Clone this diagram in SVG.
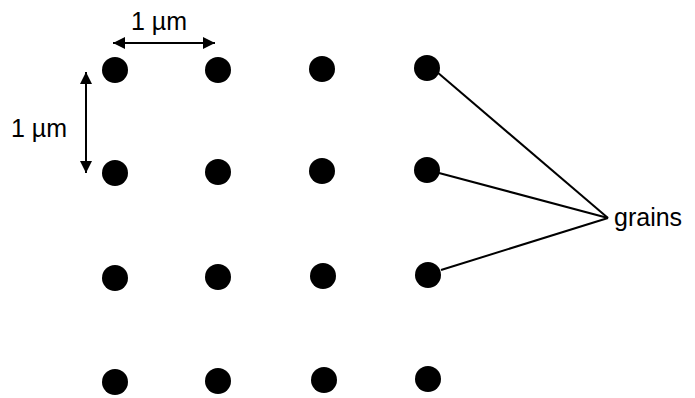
<svg xmlns="http://www.w3.org/2000/svg" width="695" height="398" viewBox="0 0 695 398">
<style>
.g{fill:#000}
.t{font-family:"Liberation Sans",Arial,sans-serif;font-size:25px;fill:#000}
.c{stroke:#000;stroke-width:2;fill:none}
</style>
<defs>
<marker id="ah" viewBox="0 0 10 10" refX="10" refY="5" markerWidth="6.5" markerHeight="6" orient="auto-start-reverse" markerUnits="strokeWidth">
<path d="M0,0 L10,5 L0,10 Z" fill="#000"/>
</marker>
</defs>
<rect width="695" height="398" fill="#fff"/>
<g id="dots">
<g id="d00"><circle class="g" cx="115" cy="70" r="13"/></g>
<g id="d10"><circle class="g" cx="218" cy="70" r="13"/></g>
<g id="d20"><circle class="g" cx="322" cy="69" r="13"/></g>
<g id="d30"><circle class="g" cx="427" cy="68" r="13"/></g>
<g id="d01"><circle class="g" cx="115" cy="173" r="13"/></g>
<g id="d11"><circle class="g" cx="218" cy="172" r="13"/></g>
<g id="d21"><circle class="g" cx="322" cy="171" r="13"/></g>
<g id="d31"><circle class="g" cx="427" cy="170" r="13"/></g>
<g id="d02"><circle class="g" cx="115" cy="278" r="13"/></g>
<g id="d12"><circle class="g" cx="218" cy="277" r="13"/></g>
<g id="d22"><circle class="g" cx="323" cy="276" r="13"/></g>
<g id="d32"><circle class="g" cx="428" cy="275" r="13"/></g>
<g id="d03"><circle class="g" cx="115" cy="382" r="13"/></g>
<g id="d13"><circle class="g" cx="218" cy="381" r="13"/></g>
<g id="d23"><circle class="g" cx="324" cy="380" r="13"/></g>
<g id="d33"><circle class="g" cx="428" cy="379" r="13"/></g>
</g>
<g id="connectors">
<line class="c" x1="113" y1="43" x2="215" y2="43" marker-start="url(#ah)" marker-end="url(#ah)"/>
<line class="c" x1="86" y1="72" x2="86" y2="173" marker-start="url(#ah)" marker-end="url(#ah)"/>
<line class="c" x1="437" y1="72" x2="608" y2="218"/>
<line class="c" x1="439" y1="173" x2="608" y2="218"/>
<line class="c" x1="441" y1="270" x2="608" y2="218"/>
</g>
<g id="labels">
<text class="t" x="131" y="30">1 µm</text>
<text class="t" x="11" y="137">1 µm</text>
<text class="t" x="614" y="226">grains</text>
</g>
</svg>
